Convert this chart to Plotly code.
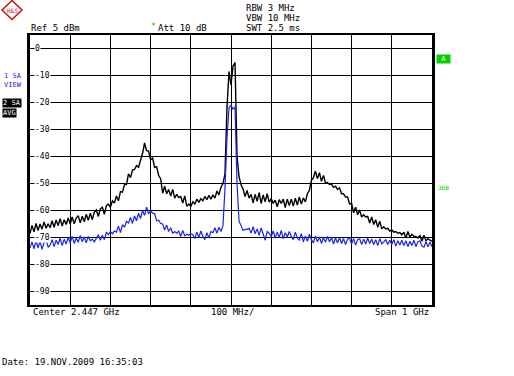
import plotly.graph_objects as go

# ---------------- data ----------------
center_mhz = 2447
span_mhz = 1000
n_points = 201
freq_mhz = [center_mhz - span_mhz / 2 + i * span_mhz / (n_points - 1) for i in range(n_points)]

trace_black_dbm = [
    -68.5, -65.5, -67.9, -64.8, -67.4, -65.0, -66.9, -64.2, -66.6, -64.9,
    -66.4, -63.8, -66.2, -63.5, -65.6, -63.0, -65.8, -63.4, -65.2, -62.8,
    -65.0, -62.4, -64.9, -62.8, -61.9, -64.6, -62.1, -64.2, -61.4, -63.6,
    -61.0, -63.4, -60.6, -59.8, -62.2, -59.4, -58.8, -61.4, -58.2, -57.6,
    -58.8, -56.4, -57.2, -54.6, -56.4, -53.0, -53.2, -50.4, -50.4, -46.4,
    -47.8, -45.0, -44.8, -43.4, -44.0, -41.6, -38.8, -35.0, -37.8, -38.0,
    -41.2, -40.6, -44.0, -43.8, -47.0, -48.2, -53.6, -51.0, -53.8, -52.2,
    -54.6, -52.2, -55.4, -54.0, -55.2, -54.8, -57.2, -54.6, -58.4, -57.6,
    -58.4, -56.8, -57.6, -55.8, -57.0, -55.6, -56.4, -54.8, -56.0, -54.4,
    -55.8, -54.2, -55.4, -52.8, -54.2, -51.4, -50.0, -46.5, -22.0, -8.5,
    -13.5, -6.5, -5.2, -40.0, -47.5, -50.5, -52.0, -54.8, -52.6, -55.4,
    -54.0, -57.2, -54.0, -56.6, -53.4, -57.4, -54.2, -56.8, -53.8, -56.9,
    -55.6, -57.4, -56.2, -58.6, -56.0, -57.4, -55.8, -58.9, -55.8, -58.2,
    -55.8, -58.4, -55.4, -58.0, -55.0, -57.6, -55.4, -56.8, -53.8, -52.5,
    -48.8, -47.8, -45.4, -48.2, -46.0, -49.2, -47.0, -49.8, -49.6, -50.4,
    -50.2, -51.4, -51.0, -52.2, -51.6, -53.8, -53.8, -55.0, -55.0, -57.6,
    -57.4, -60.8, -58.8, -61.6, -59.8, -62.4, -61.6, -62.4, -62.2, -64.6,
    -62.4, -65.2, -63.4, -66.2, -64.0, -66.8, -66.0, -66.8, -66.6, -67.6,
    -67.2, -68.0, -67.8, -68.4, -68.2, -69.0, -68.0, -70.2, -67.8, -69.8,
    -68.8, -69.6, -69.6, -70.2, -69.2, -71.4, -69.2, -71.2, -70.4, -71.0,
    -71.4,
]

trace_blue_dbm = [
    -73.8, -71.6, -74.2, -71.2, -73.8, -71.4, -74.4, -71.8, -70.8, -73.6,
    -72.8, -70.8, -73.4, -71.0, -72.6, -70.2, -73.0, -70.6, -72.4, -70.0,
    -72.0, -69.6, -72.2, -70.2, -71.8, -69.2, -71.6, -69.8, -72.0, -69.6,
    -71.2, -70.6, -71.6, -70.0, -69.0, -71.0, -69.2, -70.8, -68.0, -69.0,
    -67.8, -68.6, -67.6, -68.0, -65.8, -68.2, -65.2, -66.2, -64.0, -64.6,
    -62.6, -64.8, -62.0, -63.8, -61.0, -63.0, -60.0, -61.8, -58.8, -61.2,
    -60.2, -61.0, -61.2, -63.8, -63.6, -64.8, -65.0, -67.2, -65.4, -67.8,
    -66.4, -68.4, -67.8, -68.4, -67.6, -69.6, -67.4, -69.4, -68.8, -69.2,
    -68.6, -69.0, -70.4, -68.0, -70.0, -67.6, -69.6, -70.8, -68.2, -70.2,
    -67.8, -68.2, -66.4, -68.4, -66.2, -67.8, -65.6, -52.0, -33.0, -22.0,
    -21.0, -22.5, -21.6, -50.0, -64.0, -65.6, -67.4, -67.0, -67.0, -66.6,
    -68.4, -66.0, -68.6, -66.8, -69.2, -66.4, -68.8, -71.0, -67.8, -68.4,
    -69.6, -67.6, -70.2, -68.0, -70.0, -67.4, -70.4, -68.2, -69.8, -67.8,
    -69.6, -70.8, -68.0, -70.2, -71.0, -68.6, -71.6, -69.4, -71.4, -68.8,
    -70.8, -72.0, -69.4, -71.6, -69.8, -72.2, -70.0, -71.8, -69.6, -71.6,
    -70.0, -72.4, -70.2, -72.0, -70.0, -72.2, -70.4, -72.6, -70.6, -70.2,
    -72.4, -70.4, -72.8, -70.8, -70.4, -72.6, -70.6, -72.4, -70.2, -72.2,
    -70.6, -72.6, -70.8, -73.0, -70.4, -72.4, -71.6, -70.8, -72.6, -71.0,
    -72.6, -70.8, -73.2, -71.2, -72.8, -71.0, -73.0, -71.2, -73.4, -71.4,
    -73.0, -71.0, -73.4, -71.6, -71.2, -73.2, -73.6, -71.6, -73.4, -71.8,
    -73.4,
]

ref_level_dbm = 5
y_bottom_dbm = -95
y_tick_values = [0, -10, -20, -30, -40, -50, -60, -70, -80, -90]
y_tick_labels = ["0", "-10", "-20", "-30", "-40", "-50", "-60", "-70", "-80", "-90"]

# ---------------- styling ----------------
MONO = "DejaVu Sans Mono"
BLUE = "#1a22ee"
GREEN = "#00d200"
W, H = 514, 376
ML, MR, MT, MB = 30, 82, 35, 71
PW, PH = W - ML - MR, H - MT - MB

fig = go.Figure()
fig.add_trace(go.Scatter(x=freq_mhz, y=trace_black_dbm, mode="lines",
                         line=dict(color="black", width=1.4), hoverinfo="skip"))
fig.add_trace(go.Scatter(x=freq_mhz, y=trace_blue_dbm, mode="lines",
                         line=dict(color=BLUE, width=1.2), hoverinfo="skip"))

x0 = center_mhz - span_mhz / 2
x1 = center_mhz + span_mhz / 2

fig.update_layout(
    width=W, height=H,
    margin=dict(l=ML, r=MR, t=MT, b=MB),
    paper_bgcolor="white", plot_bgcolor="white",
    showlegend=False,
    font=dict(family=MONO, size=9, color="black"),
    xaxis=dict(range=[x0, x1], tick0=x0, dtick=100, showticklabels=False,
               showgrid=True, gridcolor="black", gridwidth=1, zeroline=False,
               showline=True, linecolor="black", linewidth=2, mirror=True, ticks=""),
    yaxis=dict(range=[y_bottom_dbm, ref_level_dbm], tickvals=y_tick_values,
               showticklabels=False, showgrid=True, gridcolor="black", gridwidth=1,
               zeroline=False, showline=True, linecolor="black", linewidth=3,
               mirror=True, ticks=""),
)

annotations = []
for v, lab in zip(y_tick_values, y_tick_labels):
    annotations.append(dict(x=0, xref="paper", y=v, yref="y", text=lab, showarrow=False,
                            xanchor="left", yanchor="middle", xshift=4,
                            bgcolor="white", borderpad=0,
                            font=dict(family=MONO, size=8, color="black")))


def px_x(x):
    return (x - ML) / PW


def px_y(y):
    return 1 - (y - MT) / PH


def ptext(x, y, text, size=9, color="black", anchor="left", bg=None):
    d = dict(x=px_x(x), y=px_y(y), xref="paper", yref="paper", text=text,
             showarrow=False, xanchor=anchor, yanchor="middle",
             font=dict(family=MONO, size=size, color=color))
    if bg:
        d["bgcolor"] = bg
        d["borderpad"] = 0
    return d


annotations += [
    ptext(244, 8, "RBW 3 MHz"),
    ptext(244, 18, "VBW 10 MHz"),
    ptext(244, 28, "SWT 2.5 ms"),
    ptext(29, 28, "Ref 5 dBm"),
    ptext(149, 27, "*", size=8, color=GREEN),
    ptext(156, 28, "Att 10 dB"),
    ptext(2, 76, "1 SA", size=7, color=BLUE),
    ptext(2, 85, "VIEW", size=7, color=BLUE),
    ptext(2, 103, "2 SA", size=7, color="white", bg="black"),
    ptext(2, 113, "AVG", size=7, color="white", bg="black"),
    ptext(436, 59, " A ", size=7, color="white", bg=GREEN),
    ptext(436, 187, "3DB", size=6, color=GREEN),
    ptext(31, 312, "Center 2.447 GHz"),
    ptext(209, 312, "100 MHz/"),
    ptext(431, 312, "Span 1 GHz", anchor="right"),
    ptext(0, 362, "Date: 19.NOV.2009 16:35:03"),
    ptext(12, 10, "R&amp;S", size=6, color="#cc1111", anchor="center"),
]
fig.update_layout(annotations=annotations)

# Rohde & Schwarz style diamond logo
fig.add_shape(type="path", xref="paper", yref="paper",
              path="M {} {} L {} {} L {} {} L {} {} Z".format(
                  px_x(2), px_y(10), px_x(12), px_y(0.5),
                  px_x(22), px_y(10), px_x(12), px_y(19.5)),
              line=dict(color="#cc1111", width=1.5), fillcolor="rgba(0,0,0,0)")

fig.write_html("out.html", config={"displayModeBar": False},
               post_script="document.body.style.margin='0px';")
